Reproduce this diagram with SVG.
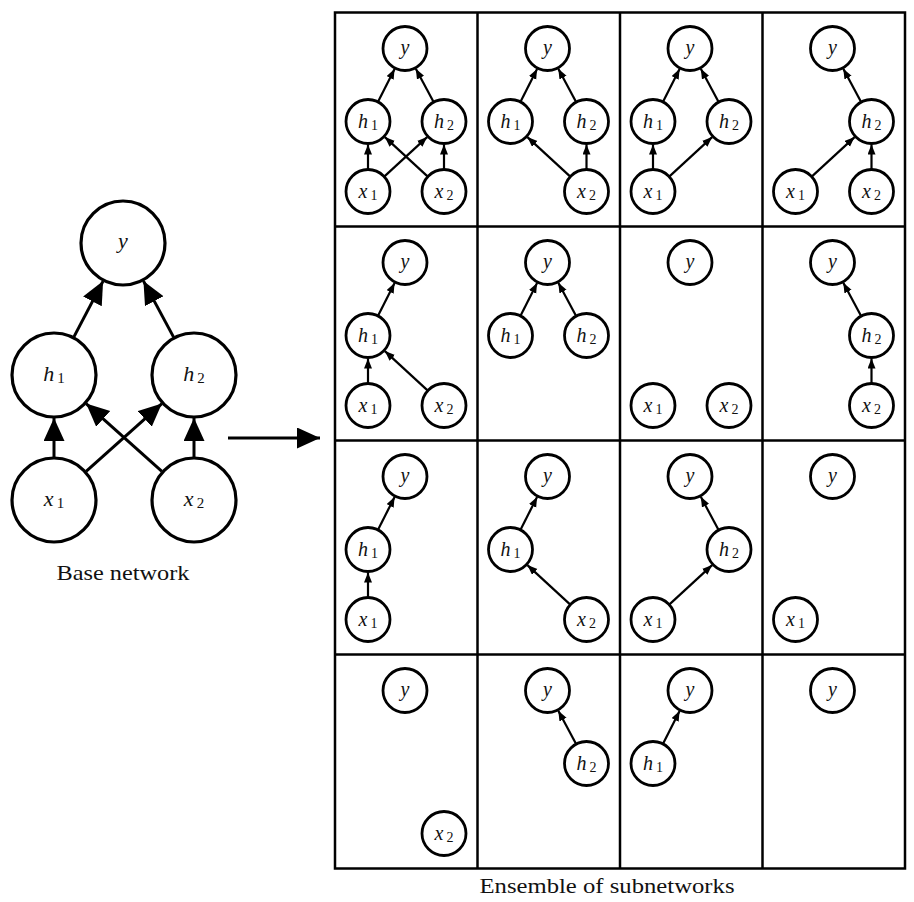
<svg xmlns="http://www.w3.org/2000/svg" width="914" height="902" viewBox="0 0 914 902">
<style>
  .n circle { fill: #fff; stroke: #000; stroke-width: 2.8; }
  .nb circle { fill: #fff; stroke: #000; stroke-width: 3.2; }
  text { font-family: "Liberation Serif", "Times New Roman", serif; fill: #111; }
  .l { font-size: 20px; text-anchor: middle; }
  .lb { font-size: 22px; text-anchor: middle; }
  .i { font-style: italic; }
  .s { font-size: 14px; }
  .sb { font-size: 15px; }
  .e { fill: none; stroke: #000; stroke-width: 2.2; marker-end: url(#ah); }
  .eb { fill: none; stroke: #000; stroke-width: 3; marker-end: url(#ahb); }
  .grid { fill: none; stroke: #000; stroke-width: 2.5; }
  .cap { font-size: 21px; text-anchor: middle; }
</style>
<defs>
  <marker id="ah" markerUnits="userSpaceOnUse" markerWidth="11" markerHeight="9" refX="10" refY="4" orient="auto">
    <path d="M0,0 L10,4 L0,8 z" fill="#000"/>
  </marker>
  <marker id="ahb" markerUnits="userSpaceOnUse" markerWidth="24" markerHeight="22" refX="23" refY="10.5" orient="auto">
    <path d="M0,0 L23,10.5 L0,21 z" fill="#000"/>
  </marker>
</defs>
<rect width="914" height="902" fill="#fff"/>

<!-- Base network -->
<g id="base">
  <g id="base-y" class="nb"><circle cx="123" cy="243" r="42"/><text class="lb" x="123" y="248"><tspan class="i">y</tspan></text></g>
  <g id="base-h1" class="nb"><circle cx="54" cy="375" r="42"/><text class="lb" x="54" y="381"><tspan class="i">h</tspan><tspan class="sb" dx="3" dy="2">1</tspan></text></g>
  <g id="base-h2" class="nb"><circle cx="194" cy="375" r="42"/><text class="lb" x="194" y="381"><tspan class="i">h</tspan><tspan class="sb" dx="3" dy="2">2</tspan></text></g>
  <g id="base-x1" class="nb"><circle cx="54" cy="500" r="42"/><text class="lb" x="54" y="506"><tspan class="i">x</tspan><tspan class="sb" dx="3" dy="2">1</tspan></text></g>
  <g id="base-x2" class="nb"><circle cx="194" cy="500" r="42"/><text class="lb" x="194" y="506"><tspan class="i">x</tspan><tspan class="sb" dx="3" dy="2">2</tspan></text></g>
</g>
<text class="cap" x="123" y="580" textLength="133" lengthAdjust="spacingAndGlyphs">Base network</text>

<!-- Grid -->
<g id="grid" class="grid">
  <rect x="335" y="12.5" width="570" height="856"/>
  <line x1="477.5" y1="12.5" x2="477.5" y2="868.5"/>
  <line x1="620" y1="12.5" x2="620" y2="868.5"/>
  <line x1="762.5" y1="12.5" x2="762.5" y2="868.5"/>
  <line x1="335" y1="226.5" x2="905" y2="226.5"/>
  <line x1="335" y1="440.5" x2="905" y2="440.5"/>
  <line x1="335" y1="654.5" x2="905" y2="654.5"/>
</g>
<text class="cap" x="607" y="893" textLength="255" lengthAdjust="spacingAndGlyphs">Ensemble of subnetworks</text>

<!-- Connectors -->
<g id="connectors">
  <path class="eb" d="M73.9,336.9 L103.1,281.1"/>
  <path class="eb" d="M173.6,337.1 L143.4,280.9"/>
  <path class="eb" d="M54,457 L54,418"/>
  <path class="eb" d="M194,457 L194,418"/>
  <path class="eb" d="M86.1,471.4 L161.9,403.6"/>
  <path class="eb" d="M161.9,471.4 L86.1,403.6"/>
  <path class="eb" d="M228,438 L320,438"/>

  <g transform="translate(335,12.5)">
    <path class="e" d="M42.9,89.4 L59.6,56.5"/>
    <path class="e" d="M98.6,89.6 L80.8,56.3"/>
    <path class="e" d="M33,157 L33,132"/>
    <path class="e" d="M109,157 L109,132"/>
    <path class="e" d="M49.2,164.1 L92.1,124.6"/>
    <path class="e" d="M92.8,164.1 L49.9,124.6"/>
  </g>
  <g transform="translate(477.5,12.5)">
    <path class="e" d="M42.9,89.4 L59.6,56.5"/>
    <path class="e" d="M98.6,89.6 L80.8,56.3"/>
    <path class="e" d="M109,157 L109,132"/>
    <path class="e" d="M92.8,164.1 L49.9,124.6"/>
  </g>
  <g transform="translate(620,12.5)">
    <path class="e" d="M42.9,89.4 L59.6,56.5"/>
    <path class="e" d="M98.6,89.6 L80.8,56.3"/>
    <path class="e" d="M33,157 L33,132"/>
    <path class="e" d="M49.2,164.1 L92.1,124.6"/>
  </g>
  <g transform="translate(762.5,12.5)">
    <path class="e" d="M98.6,89.6 L80.8,56.3"/>
    <path class="e" d="M109,157 L109,132"/>
    <path class="e" d="M49.2,164.1 L92.1,124.6"/>
  </g>
  <g transform="translate(335,226.5)">
    <path class="e" d="M42.9,89.4 L59.6,56.5"/>
    <path class="e" d="M33,157 L33,132"/>
    <path class="e" d="M92.8,164.1 L49.9,124.6"/>
  </g>
  <g transform="translate(477.5,226.5)">
    <path class="e" d="M42.9,89.4 L59.6,56.5"/>
    <path class="e" d="M98.6,89.6 L80.8,56.3"/>
  </g>
  <g transform="translate(762.5,226.5)">
    <path class="e" d="M98.6,89.6 L80.8,56.3"/>
    <path class="e" d="M109,157 L109,132"/>
  </g>
  <g transform="translate(335,440.5)">
    <path class="e" d="M42.9,89.4 L59.6,56.5"/>
    <path class="e" d="M33,157 L33,132"/>
  </g>
  <g transform="translate(477.5,440.5)">
    <path class="e" d="M42.9,89.4 L59.6,56.5"/>
    <path class="e" d="M92.8,164.1 L49.9,124.6"/>
  </g>
  <g transform="translate(620,440.5)">
    <path class="e" d="M98.6,89.6 L80.8,56.3"/>
    <path class="e" d="M49.2,164.1 L92.1,124.6"/>
  </g>
  <g transform="translate(477.5,654.5)">
    <path class="e" d="M98.6,89.6 L80.8,56.3"/>
  </g>
  <g transform="translate(620,654.5)">
    <path class="e" d="M42.9,89.4 L59.6,56.5"/>
  </g>
</g>

<!-- Row 0 -->
<g id="c00" transform="translate(335,12.5)">
  <g id="c00-y" class="n"><circle cx="70" cy="36" r="22"/><text class="l" x="70" y="41"><tspan class="i">y</tspan></text></g>
  <g id="c00-h1" class="n"><circle cx="33" cy="109" r="22"/><text class="l" x="33" y="115"><tspan class="i">h</tspan><tspan class="s" dx="3" dy="2">1</tspan></text></g>
  <g id="c00-h2" class="n"><circle cx="109" cy="109" r="22"/><text class="l" x="109" y="115"><tspan class="i">h</tspan><tspan class="s" dx="3" dy="2">2</tspan></text></g>
  <g id="c00-x1" class="n"><circle cx="33" cy="179" r="22"/><text class="l" x="33" y="185"><tspan class="i">x</tspan><tspan class="s" dx="3" dy="2">1</tspan></text></g>
  <g id="c00-x2" class="n"><circle cx="109" cy="179" r="22"/><text class="l" x="109" y="185"><tspan class="i">x</tspan><tspan class="s" dx="3" dy="2">2</tspan></text></g>
</g>
<g id="c01" transform="translate(477.5,12.5)">
  <g id="c01-y" class="n"><circle cx="70" cy="36" r="22"/><text class="l" x="70" y="41"><tspan class="i">y</tspan></text></g>
  <g id="c01-h1" class="n"><circle cx="33" cy="109" r="22"/><text class="l" x="33" y="115"><tspan class="i">h</tspan><tspan class="s" dx="3" dy="2">1</tspan></text></g>
  <g id="c01-h2" class="n"><circle cx="109" cy="109" r="22"/><text class="l" x="109" y="115"><tspan class="i">h</tspan><tspan class="s" dx="3" dy="2">2</tspan></text></g>
  <g id="c01-x2" class="n"><circle cx="109" cy="179" r="22"/><text class="l" x="109" y="185"><tspan class="i">x</tspan><tspan class="s" dx="3" dy="2">2</tspan></text></g>
</g>
<g id="c02" transform="translate(620,12.5)">
  <g id="c02-y" class="n"><circle cx="70" cy="36" r="22"/><text class="l" x="70" y="41"><tspan class="i">y</tspan></text></g>
  <g id="c02-h1" class="n"><circle cx="33" cy="109" r="22"/><text class="l" x="33" y="115"><tspan class="i">h</tspan><tspan class="s" dx="3" dy="2">1</tspan></text></g>
  <g id="c02-h2" class="n"><circle cx="109" cy="109" r="22"/><text class="l" x="109" y="115"><tspan class="i">h</tspan><tspan class="s" dx="3" dy="2">2</tspan></text></g>
  <g id="c02-x1" class="n"><circle cx="33" cy="179" r="22"/><text class="l" x="33" y="185"><tspan class="i">x</tspan><tspan class="s" dx="3" dy="2">1</tspan></text></g>
</g>
<g id="c03" transform="translate(762.5,12.5)">
  <g id="c03-y" class="n"><circle cx="70" cy="36" r="22"/><text class="l" x="70" y="41"><tspan class="i">y</tspan></text></g>
  <g id="c03-h2" class="n"><circle cx="109" cy="109" r="22"/><text class="l" x="109" y="115"><tspan class="i">h</tspan><tspan class="s" dx="3" dy="2">2</tspan></text></g>
  <g id="c03-x1" class="n"><circle cx="33" cy="179" r="22"/><text class="l" x="33" y="185"><tspan class="i">x</tspan><tspan class="s" dx="3" dy="2">1</tspan></text></g>
  <g id="c03-x2" class="n"><circle cx="109" cy="179" r="22"/><text class="l" x="109" y="185"><tspan class="i">x</tspan><tspan class="s" dx="3" dy="2">2</tspan></text></g>
</g>

<!-- Row 1 -->
<g id="c10" transform="translate(335,226.5)">
  <g id="c10-y" class="n"><circle cx="70" cy="36" r="22"/><text class="l" x="70" y="41"><tspan class="i">y</tspan></text></g>
  <g id="c10-h1" class="n"><circle cx="33" cy="109" r="22"/><text class="l" x="33" y="115"><tspan class="i">h</tspan><tspan class="s" dx="3" dy="2">1</tspan></text></g>
  <g id="c10-x1" class="n"><circle cx="33" cy="179" r="22"/><text class="l" x="33" y="185"><tspan class="i">x</tspan><tspan class="s" dx="3" dy="2">1</tspan></text></g>
  <g id="c10-x2" class="n"><circle cx="109" cy="179" r="22"/><text class="l" x="109" y="185"><tspan class="i">x</tspan><tspan class="s" dx="3" dy="2">2</tspan></text></g>
</g>
<g id="c11" transform="translate(477.5,226.5)">
  <g id="c11-y" class="n"><circle cx="70" cy="36" r="22"/><text class="l" x="70" y="41"><tspan class="i">y</tspan></text></g>
  <g id="c11-h1" class="n"><circle cx="33" cy="109" r="22"/><text class="l" x="33" y="115"><tspan class="i">h</tspan><tspan class="s" dx="3" dy="2">1</tspan></text></g>
  <g id="c11-h2" class="n"><circle cx="109" cy="109" r="22"/><text class="l" x="109" y="115"><tspan class="i">h</tspan><tspan class="s" dx="3" dy="2">2</tspan></text></g>
</g>
<g id="c12" transform="translate(620,226.5)">
  <g id="c12-y" class="n"><circle cx="70" cy="36" r="22"/><text class="l" x="70" y="41"><tspan class="i">y</tspan></text></g>
  <g id="c12-x1" class="n"><circle cx="33" cy="179" r="22"/><text class="l" x="33" y="185"><tspan class="i">x</tspan><tspan class="s" dx="3" dy="2">1</tspan></text></g>
  <g id="c12-x2" class="n"><circle cx="109" cy="179" r="22"/><text class="l" x="109" y="185"><tspan class="i">x</tspan><tspan class="s" dx="3" dy="2">2</tspan></text></g>
</g>
<g id="c13" transform="translate(762.5,226.5)">
  <g id="c13-y" class="n"><circle cx="70" cy="36" r="22"/><text class="l" x="70" y="41"><tspan class="i">y</tspan></text></g>
  <g id="c13-h2" class="n"><circle cx="109" cy="109" r="22"/><text class="l" x="109" y="115"><tspan class="i">h</tspan><tspan class="s" dx="3" dy="2">2</tspan></text></g>
  <g id="c13-x2" class="n"><circle cx="109" cy="179" r="22"/><text class="l" x="109" y="185"><tspan class="i">x</tspan><tspan class="s" dx="3" dy="2">2</tspan></text></g>
</g>

<!-- Row 2 -->
<g id="c20" transform="translate(335,440.5)">
  <g id="c20-y" class="n"><circle cx="70" cy="36" r="22"/><text class="l" x="70" y="41"><tspan class="i">y</tspan></text></g>
  <g id="c20-h1" class="n"><circle cx="33" cy="109" r="22"/><text class="l" x="33" y="115"><tspan class="i">h</tspan><tspan class="s" dx="3" dy="2">1</tspan></text></g>
  <g id="c20-x1" class="n"><circle cx="33" cy="179" r="22"/><text class="l" x="33" y="185"><tspan class="i">x</tspan><tspan class="s" dx="3" dy="2">1</tspan></text></g>
</g>
<g id="c21" transform="translate(477.5,440.5)">
  <g id="c21-y" class="n"><circle cx="70" cy="36" r="22"/><text class="l" x="70" y="41"><tspan class="i">y</tspan></text></g>
  <g id="c21-h1" class="n"><circle cx="33" cy="109" r="22"/><text class="l" x="33" y="115"><tspan class="i">h</tspan><tspan class="s" dx="3" dy="2">1</tspan></text></g>
  <g id="c21-x2" class="n"><circle cx="109" cy="179" r="22"/><text class="l" x="109" y="185"><tspan class="i">x</tspan><tspan class="s" dx="3" dy="2">2</tspan></text></g>
</g>
<g id="c22" transform="translate(620,440.5)">
  <g id="c22-y" class="n"><circle cx="70" cy="36" r="22"/><text class="l" x="70" y="41"><tspan class="i">y</tspan></text></g>
  <g id="c22-h2" class="n"><circle cx="109" cy="109" r="22"/><text class="l" x="109" y="115"><tspan class="i">h</tspan><tspan class="s" dx="3" dy="2">2</tspan></text></g>
  <g id="c22-x1" class="n"><circle cx="33" cy="179" r="22"/><text class="l" x="33" y="185"><tspan class="i">x</tspan><tspan class="s" dx="3" dy="2">1</tspan></text></g>
</g>
<g id="c23" transform="translate(762.5,440.5)">
  <g id="c23-y" class="n"><circle cx="70" cy="36" r="22"/><text class="l" x="70" y="41"><tspan class="i">y</tspan></text></g>
  <g id="c23-x1" class="n"><circle cx="33" cy="179" r="22"/><text class="l" x="33" y="185"><tspan class="i">x</tspan><tspan class="s" dx="3" dy="2">1</tspan></text></g>
</g>

<!-- Row 3 -->
<g id="c30" transform="translate(335,654.5)">
  <g id="c30-y" class="n"><circle cx="70" cy="36" r="22"/><text class="l" x="70" y="41"><tspan class="i">y</tspan></text></g>
  <g id="c30-x2" class="n"><circle cx="109" cy="179" r="22"/><text class="l" x="109" y="185"><tspan class="i">x</tspan><tspan class="s" dx="3" dy="2">2</tspan></text></g>
</g>
<g id="c31" transform="translate(477.5,654.5)">
  <g id="c31-y" class="n"><circle cx="70" cy="36" r="22"/><text class="l" x="70" y="41"><tspan class="i">y</tspan></text></g>
  <g id="c31-h2" class="n"><circle cx="109" cy="109" r="22"/><text class="l" x="109" y="115"><tspan class="i">h</tspan><tspan class="s" dx="3" dy="2">2</tspan></text></g>
</g>
<g id="c32" transform="translate(620,654.5)">
  <g id="c32-y" class="n"><circle cx="70" cy="36" r="22"/><text class="l" x="70" y="41"><tspan class="i">y</tspan></text></g>
  <g id="c32-h1" class="n"><circle cx="33" cy="109" r="22"/><text class="l" x="33" y="115"><tspan class="i">h</tspan><tspan class="s" dx="3" dy="2">1</tspan></text></g>
</g>
<g id="c33" transform="translate(762.5,654.5)">
  <g id="c33-y" class="n"><circle cx="70" cy="36" r="22"/><text class="l" x="70" y="41"><tspan class="i">y</tspan></text></g>
</g>
</svg>
